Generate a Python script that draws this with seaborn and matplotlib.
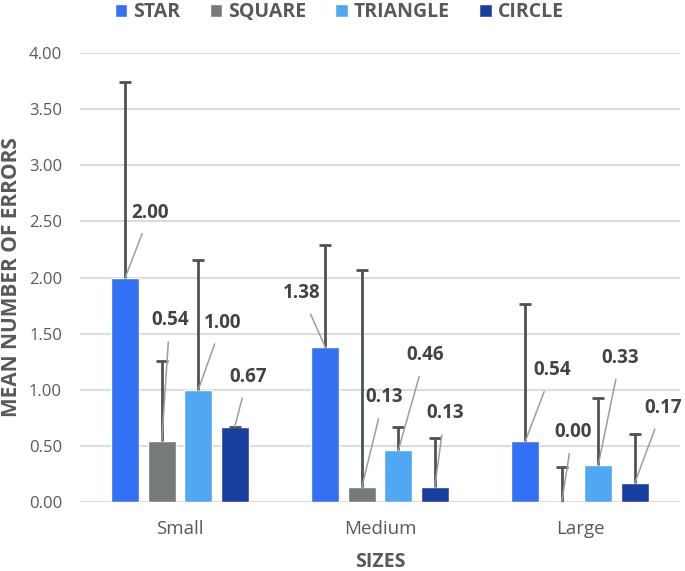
import numpy as np
import pandas as pd
import matplotlib
matplotlib.use('Agg')
import matplotlib.pyplot as plt
import seaborn as sns

# data
sizes = ['Small', 'Medium', 'Large']
shapes = ['STAR', 'SQUARE', 'TRIANGLE', 'CIRCLE']
star_mean = [2.00, 1.38, 0.54]
square_mean = [0.54, 0.13, 0.00]
triangle_mean = [1.00, 0.46, 0.33]
circle_mean = [0.67, 0.13, 0.17]
star_err = [1.74, 0.91, 1.22]
square_err = [0.72, 1.94, 0.31]
triangle_err = [1.16, 0.21, 0.60]
circle_err = [0.00, 0.44, 0.44]

colors = ['#3371F2', '#757B7A', '#50A8F2', '#183F9F']
# label offsets (pixels) from the top of each bar, per shape then per size
label_offsets = [
    [(25, 65), (-24, 54), (27, 71)],
    [(8, 121), (22, 90), (11, 70)],
    [(24, 67), (27, 95), (22, 107)],
    [(13, 50), (10, 74), (28, 75)],
]

means = [star_mean, square_mean, triangle_mean, circle_mean]
errs = [star_err, square_err, triangle_err, circle_err]

df = pd.DataFrame({
    'size': sizes * len(shapes),
    'shape': np.repeat(shapes, len(sizes)),
    'mean': np.concatenate(means),
})

sns.set_style('white')
plt.rcParams['font.family'] = ['Open Sans', 'DejaVu Sans']

fig = plt.figure(figsize=(6.85, 5.71), dpi=100)
ax = fig.add_axes([0.1168, 0.1208, 0.8759, 0.7864])

sns.barplot(data=df, x='size', y='mean', hue='shape', order=sizes, hue_order=shapes,
            palette=colors, width=0.73, gap=0.22, errorbar=None, saturation=1,
            legend=True, ax=ax, zorder=2)

text_dark = '#3F4444'
bar_containers = list(ax.containers)
for i, cont in enumerate(bar_containers):
    xs = [p.get_x() + p.get_width() / 2 for p in cont.patches]
    ys = [p.get_height() for p in cont.patches]
    eb = ax.errorbar(xs, ys, yerr=[np.zeros(len(ys)), errs[i]], fmt='none',
                     ecolor='#4D5354', elinewidth=2, capsize=4.5, capthick=2, zorder=3)
    # only the upper cap is shown
    eb[1][0].set_visible(False)
    for j, (x, y) in enumerate(zip(xs, ys)):
        ax.annotate(f'{means[i][j]:.2f}', xy=(x, y), xytext=label_offsets[i][j],
                    textcoords='offset pixels', ha='center', va='center',
                    fontsize=13.5, fontweight='bold', color=text_dark,
                    arrowprops=dict(arrowstyle='-', color='#9A9E9E', lw=1.1,
                                    shrinkA=6, shrinkB=0), zorder=4)

ax.set_ylim(0, 4)
ax.set_xlim(-0.5, 2.5)
ax.set_yticks(np.arange(0, 4.01, 0.5))
ax.yaxis.set_major_formatter(matplotlib.ticker.FormatStrFormatter('%.2f'))
ax.grid(axis='y', color='#D9DDDC', linewidth=1.5, zorder=0)
ax.set_axisbelow(True)
for s in ax.spines.values():
    s.set_visible(False)
ax.tick_params(axis='y', length=0, pad=13, labelsize=12, labelcolor='#595959')
ax.tick_params(axis='x', length=0, pad=13, labelsize=13.5, labelcolor='#595959')
ax.set_ylabel('MEAN NUMBER OF ERRORS', fontsize=15, fontweight='bold',
              color='#595959', labelpad=5)
ax.set_xlabel('SIZES', fontsize=14, fontweight='bold', color='#595959', labelpad=10)

handles, labels = ax.get_legend_handles_labels()
ax.get_legend().remove()
fig.legend(handles, labels, loc='upper center', bbox_to_anchor=(0.495, 1.027), ncol=4,
           frameon=False, handlelength=0.65, handleheight=0.65, handletextpad=0.3,
           columnspacing=1.5, prop={'size': 14, 'weight': 'bold'}, labelcolor='#595959')

fig.savefig('out.png', dpi=100)
